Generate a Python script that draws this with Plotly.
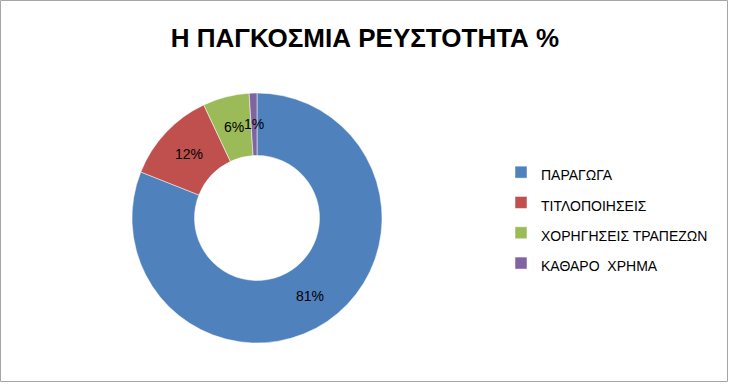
import math
import plotly.graph_objects as go

labels = ["ΠΑΡΑΓΩΓΑ", "ΤΙΤΛΟΠΟΙΗΣΕΙΣ", "ΧΟΡΗΓΗΣΕΙΣ ΤΡΑΠΕΖΩΝ", "ΚΑΘΑΡΟ  ΧΡΗΜΑ"]
values = [81, 12, 6, 1]
colors = ["#4F81BD", "#C0504D", "#9BBB59", "#8064A2"]
title_text = "Η ΠΑΓΚΟΣΜΙΑ ΡΕΥΣΤΟΤΗΤΑ %"

W, H = 730, 384
X0, X1, Y0, Y1 = 132, 382, 93, 343  # donut box in px
HOLE = 0.5

fig = go.Figure(go.Pie(
    labels=[f'<span style="font-size:14px">{l}</span>' for l in labels],
    values=values,
    hole=HOLE,
    sort=False,
    direction="clockwise",
    rotation=0,
    marker=dict(colors=colors, line=dict(color="white", width=0.5)),
    textinfo="none",
    domain=dict(x=[X0 / W, X1 / W], y=[1 - Y1 / H, 1 - Y0 / H]),
    hoverinfo="skip",
))

# percentage labels placed at mid-ring of each slice
total = sum(values)
cx, cy = (X0 + X1) / 2, (Y0 + Y1) / 2
R = (X1 - X0) / 2
rm = R * (1 + HOLE) / 2
annotations = []
cum = 0
for v in values:
    mid = (cum + v / 2) / total * 2 * math.pi
    cum += v
    px = cx + rm * math.sin(mid)
    py = cy - rm * math.cos(mid)
    annotations.append(dict(
        x=px / W, y=1 - py / H, xref="paper", yref="paper",
        text=f"{round(v / total * 100)}%", showarrow=False,
        font=dict(family="Liberation Sans, Arial", size=14, color="black"),
        xanchor="center", yanchor="middle"))

fig.update_layout(
    width=W, height=H,
    margin=dict(l=0, r=0, t=0, b=0),
    paper_bgcolor="white",
    plot_bgcolor="white",
    title=dict(text=f"<b>{title_text}</b>", x=0.5, xanchor="center",
               y=1 - 38 / H, yanchor="middle",
               font=dict(family="Liberation Sans, Arial", size=26, color="black")),
    annotations=annotations,
    legend=dict(x=501 / W, y=1 - 218 / H, xanchor="left", yanchor="middle",
                font=dict(family="Liberation Sans, Arial", size=21, color="black"),
                itemclick=False, itemdoubleclick=False),
    shapes=[dict(type="rect", xref="paper", yref="paper",
                 x0=0.5 / W, x1=727.5 / W, y0=1 - 381.5 / H, y1=1 - 0.5 / H,
                 line=dict(color="#A6A6A6", width=1))],
)

fig.write_html("out.html")
